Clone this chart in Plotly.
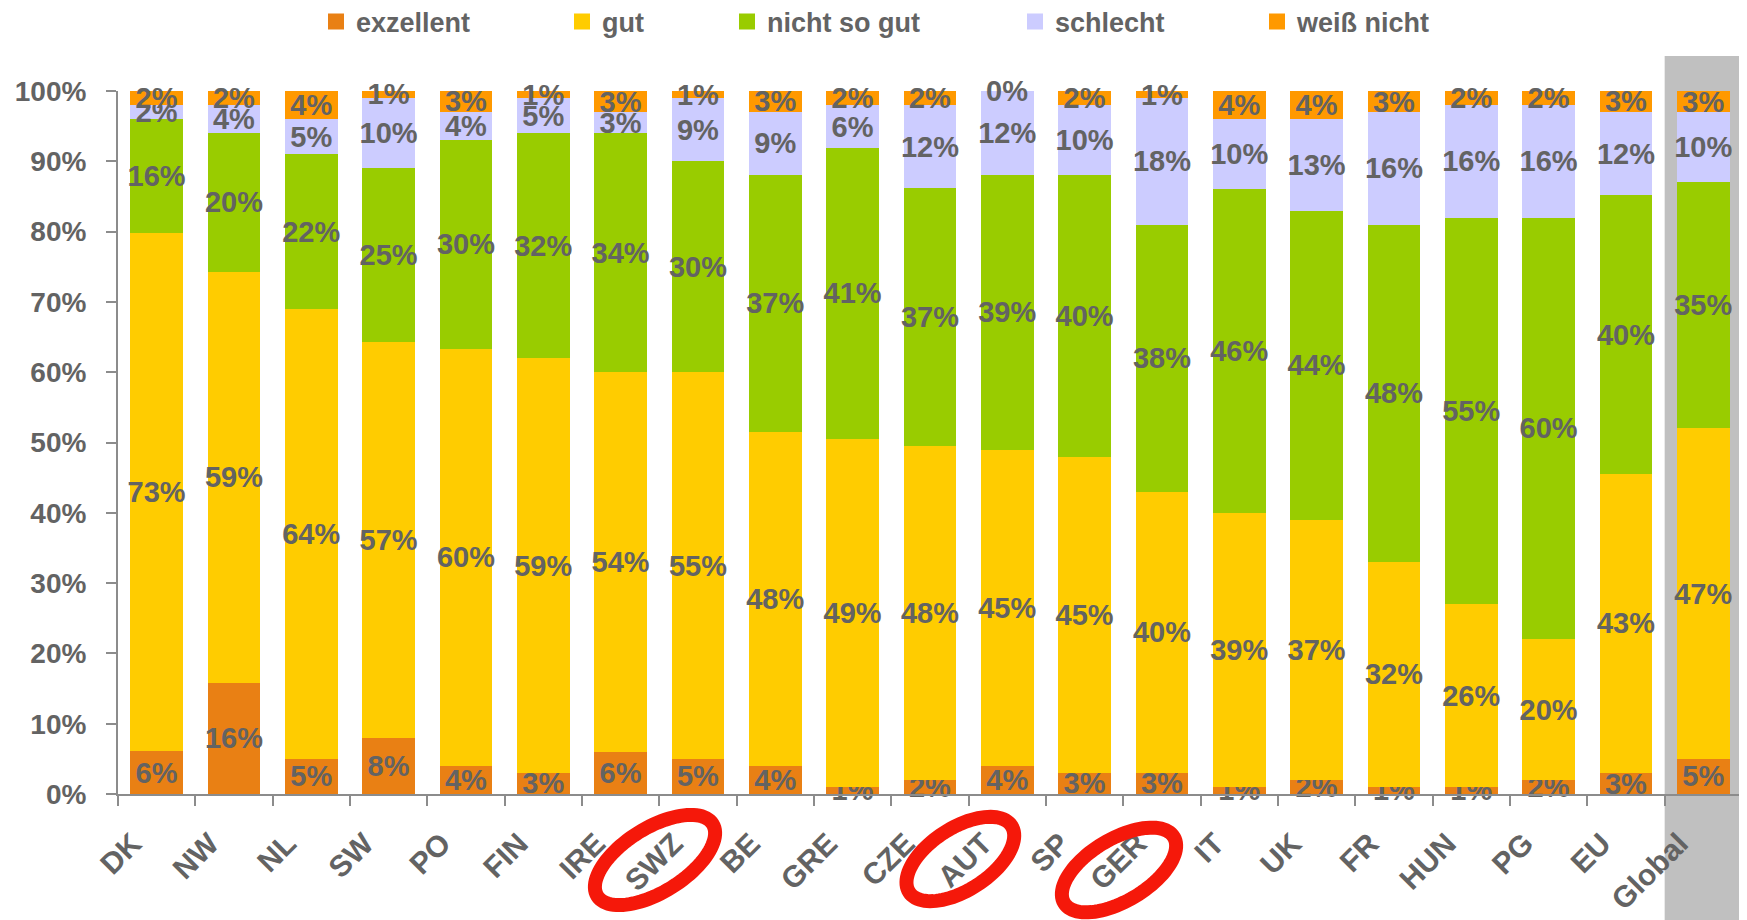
import numpy as np
import plotly.graph_objects as go

categories = ["DK", "NW", "NL", "SW", "PO", "FIN", "IRE", "SWZ", "BE", "GRE", "CZE",
              "AUT", "SP", "GER", "IT", "UK", "FR", "HUN", "PG", "EU", "Global"]
exzellent = [6, 16, 5, 8, 4, 3, 6, 5, 4, 1, 2, 4, 3, 3, 1, 2, 1, 1, 2, 3, 5]
gut = [73, 59, 64, 57, 60, 59, 54, 55, 48, 49, 48, 45, 45, 40, 39, 37, 32, 26, 20, 43, 47]
nicht_so_gut = [16, 20, 22, 25, 30, 32, 34, 30, 37, 41, 37, 39, 40, 38, 46, 44, 48, 55, 60, 40, 35]
schlecht = [2, 4, 5, 10, 4, 5, 3, 9, 9, 6, 12, 12, 10, 18, 10, 13, 16, 16, 16, 12, 10]
weiss_nicht = [2, 2, 4, 1, 3, 1, 3, 1, 3, 2, 2, 0, 2, 1, 4, 4, 3, 2, 2, 3, 3]
y_ticks = [0, 0.1, 0.2, 0.3, 0.4, 0.5, 0.6, 0.7, 0.8, 0.9, 1.0]
y_tick_labels = ["0%", "10%", "20%", "30%", "40%", "50%", "60%", "70%", "80%", "90%", "100%"]
highlighted = ["SWZ", "AUT", "GER"]

series = [
    ("exzellent", exzellent, "#E98014"),
    ("gut", gut, "#FFCC00"),
    ("nicht so gut", nicht_so_gut, "#99CC00"),
    ("schlecht", schlecht, "#CCCCFF"),
    ("weiß nicht", weiss_nicht, "#FF9900"),
]

FONT = "Liberation Sans, Arial, sans-serif"
GREY_TXT = "#636363"
OFF = 8  # page body margin: figure is drawn at (8, 8) in the page
W, H = 1747 - OFF, 920 - OFF
ML, MR, MT, MB = 110, 5, 83, 126
PW, PH = W - ML - MR, H - MT - MB

def px_to_paper(px, py):
    """page pixel coordinates -> paper coordinates"""
    return (px - OFF - ML) / PW, (H - MB - (py - OFF)) / PH

fig = go.Figure()
legend_left_px = [316, 562, 727, 1015, 1257]
legend_names = ["legend", "legend2", "legend3", "legend4", "legend5"]
label_font = dict(family=FONT, size=29, color=GREY_TXT, weight="bold")
for (name, vals, color), lg in zip(series, legend_names):
    fig.add_trace(go.Bar(
        name=name, x=categories, y=vals,
        marker=dict(color=color, line=dict(width=0)),
        text=[f"{v}%" for v in vals],
        textposition="inside", insidetextanchor="middle",
        constraintext="none", textangle=0,
        textfont=label_font,
        cliponaxis=False, showlegend=False,
    ))
    # legend entry with a larger square swatch
    fig.add_trace(go.Scatter(
        name=name, x=[None], y=[None], mode="markers",
        marker=dict(symbol="square", size=16, color=color, line=dict(width=0)),
        legend=lg, showlegend=True, hoverinfo="skip",
    ))

# labels for zero-height segments (bars of zero size show no inside text)
totals = np.sum([s[1] for s in series], axis=0)
annotations = []
cum = np.zeros(len(categories))
for name, vals, color in series:
    for i, v in enumerate(vals):
        if v == 0:
            annotations.append(dict(x=categories[i], y=cum[i] / totals[i], xref="x", yref="y",
                                    text=f"{v}%", showarrow=False, font=label_font,
                                    yanchor="middle", xanchor="center"))
    cum += np.array(vals)

layout_legends = {}
for lg, lx in zip(legend_names, legend_left_px):
    xp, yp = px_to_paper(lx, 22)
    layout_legends[lg] = dict(
        x=xp, y=yp, xanchor="left", yanchor="middle", orientation="h",
        font=dict(family=FONT, size=27, color=GREY_TXT, weight="bold"),
        bgcolor="rgba(0,0,0,0)", itemclick=False, itemsizing="trace",
    )

shapes = []
# grey band behind "Global"
gi = categories.index("Global")
shapes.append(dict(type="rect", xref="x", yref="paper",
                   x0=gi - 0.5, x1=gi + 0.5,
                   y0=px_to_paper(0, 920)[1], y1=px_to_paper(0, 56)[1],
                   fillcolor="#C0C0C0", line=dict(width=0), layer="below"))

# red ellipses around highlighted labels (page pixels: center x offset from category, center y, semi-axes, tilt)
ellipse_geom = {"SWZ": (-43, 860, 68, 32, 32), "AUT": (-47, 859, 61, 31, 33),
                "GER": (-43, 870, 64, 31, 31)}
step = PW / len(categories)
for lab in highlighted:
    dx, cy, a, b, th = ellipse_geom[lab]
    cx = OFF + ML + (categories.index(lab) + 0.5) * step + dx
    t = np.linspace(0, 2 * np.pi, 97)
    thr = np.deg2rad(th)
    ux, uy = np.cos(thr), -np.sin(thr)
    vx, vy = np.sin(thr), np.cos(thr)
    pxs = cx + a * np.cos(t) * ux + b * np.sin(t) * vx
    pys = cy + a * np.cos(t) * uy + b * np.sin(t) * vy
    pts = [px_to_paper(x, y) for x, y in zip(pxs, pys)]
    path = "M " + " L ".join(f"{x:.5f},{y:.5f}" for x, y in pts) + " Z"
    shapes.append(dict(type="path", xref="paper", yref="paper", path=path,
                       line=dict(color="#F5180A", width=14), fillcolor="rgba(0,0,0,0)",
                       layer="above"))

fig.update_layout(
    width=W, height=H,
    margin=dict(l=ML, r=MR, t=MT, b=MB, autoexpand=False),
    barmode="stack", barnorm="fraction", bargap=0.32,
    paper_bgcolor="white", plot_bgcolor="rgba(0,0,0,0)",
    font=dict(family=FONT, color=GREY_TXT),
    shapes=shapes, annotations=annotations,
    showlegend=True,
    **layout_legends,
)
fig.update_xaxes(
    type="category", range=[-0.5, len(categories) - 0.5], automargin=False,
    showline=True, linecolor="#8C8C8C", linewidth=2,
    ticks="outside", tickson="boundaries", ticklen=10, tickcolor="#8C8C8C", tickwidth=2,
    tickangle=-45, showgrid=False, ticklabelshift=-24, ticklabelstandoff=18,
    tickfont=dict(family=FONT, size=30, color=GREY_TXT, weight="bold"),
)
fig.update_yaxes(
    range=[0, 1], tickvals=y_ticks, ticktext=y_tick_labels, automargin=False,
    showline=True, linecolor="#8C8C8C", linewidth=2,
    ticks="outside", ticklen=10, tickcolor="#8C8C8C", tickwidth=2,
    showgrid=False, zeroline=False, ticklabelstandoff=14,
    tickfont=dict(family=FONT, size=28, color=GREY_TXT, weight="bold"),
)

fig.write_html("out.html")
